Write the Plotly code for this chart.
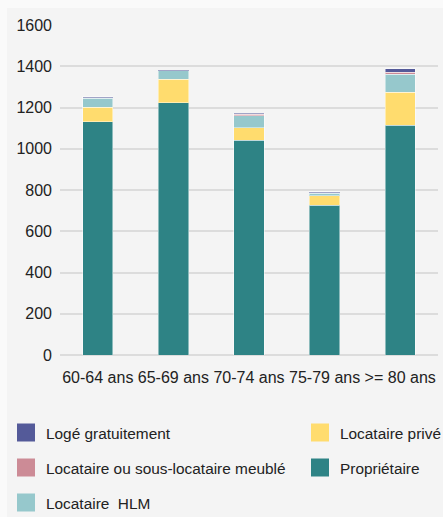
import plotly.graph_objects as go

categories = ["60-64 ans", "65-69 ans", "70-74 ans", "75-79 ans", ">= 80 ans"]
proprietaire = [1131, 1223, 1041, 726, 1115]
locataire_prive = [70, 114, 61, 46, 160]
locataire_hlm = [44, 41, 57, 13, 87]
meuble = [3, 1, 8, 1, 10]
loge_gratuit = [5, 2, 6, 6, 15]

# (name, values, colour, legend id, legend rank)
series = [
    ("Propriétaire", proprietaire, "#2e8385", "legend2", 2),
    ("Locataire privé", locataire_prive, "#ffdc6e", "legend2", 1),
    ("Locataire  HLM", locataire_hlm, "#96c8cc", "legend", 3),
    ("Locataire ou sous-locataire meublé", meuble, "#cc8b96", "legend", 2),
    ("Logé gratuitement", loge_gratuit, "#545a99", "legend", 1),
]

FONT = "Liberation Sans, Arial, sans-serif"
FS = 16
LFS = 15.4
TXT = "#222222"

fig = go.Figure()
for name, vals, color, leg, rank in series:
    fig.add_trace(go.Bar(
        x=categories, y=vals, name=name, showlegend=False,
        marker=dict(color=color, line=dict(color="rgba(255,255,255,0.45)", width=1)),
    ))
# legend-only entries (large square swatches)
for name, vals, color, leg, rank in series:
    fig.add_trace(go.Scatter(
        x=[None], y=[None], mode="markers", name=name, legend=leg,
        legendgroup=name, legendrank=rank, hoverinfo="skip",
        marker=dict(symbol="square", size=16, color=color,
                    line=dict(color=color, width=2)),
    ))

W, H = 443, 517
L, R, T, B = 60, 5, 25, 162
pw, ph = W - L - R, H - T - B

def px_x(p):
    return (p - L) / pw

def px_y(p):
    return (H - B - p) / ph

leg_common = dict(
    orientation="v", xanchor="left", yanchor="top",
    traceorder="grouped", tracegroupgap=12,
    font=dict(family=FONT, size=LFS, color=TXT),
    bgcolor="rgba(0,0,0,0)", itemclick=False, itemdoubleclick=False,
    itemsizing="trace",
)

fig.update_layout(
    width=W, height=H,
    margin=dict(l=L, r=R, t=T, b=B, pad=0, autoexpand=False),
    barmode="stack", bargap=0.6,
    paper_bgcolor="#fafafa", plot_bgcolor="rgba(0,0,0,0)",
    font=dict(family=FONT, size=FS, color=TXT),
    showlegend=True,
    legend=dict(x=px_x(6), y=px_y(416), **leg_common),
    legend2=dict(x=px_x(300), y=px_y(416), **leg_common),
    shapes=[dict(
        type="rect", xref="paper", yref="paper", layer="below",
        x0=px_x(7), x1=px_x(W), y0=px_y(H), y1=px_y(8),
        fillcolor="#f4f4f4", line=dict(width=0),
    )],
)
fig.update_xaxes(showgrid=False, showline=False, ticks="", tickangle=0,
                 ticklabelstandoff=11, tickfont=dict(size=FS))
fig.update_yaxes(range=[0, 1600], dtick=200, showgrid=True, gridcolor="#dcdcdc",
                 gridwidth=2, zeroline=True, zerolinecolor="#dcdcdc", zerolinewidth=2,
                 ticks="", ticklabelstandoff=7, tickfont=dict(size=FS))

fig.write_html("out.html")
